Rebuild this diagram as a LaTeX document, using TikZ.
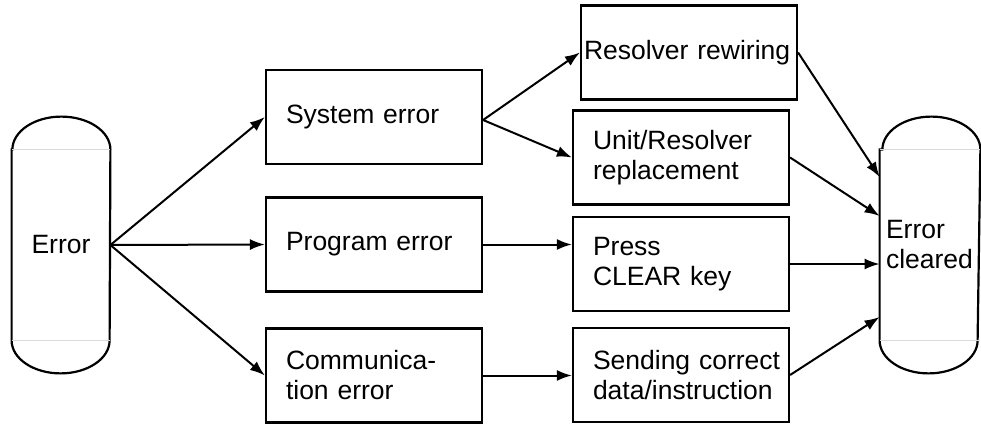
\documentclass[tikz,border=0pt]{standalone}
\usepackage{fontspec}
\setmainfont{Liberation Sans}
\usetikzlibrary{arrows.meta}
\begin{document}
\begin{tikzpicture}[x=0.5pt, y=0.5pt, >={Latex[length=7.5pt,width=5.5pt]},
  every node/.style={font=\fontsize{13.25}{15}\selectfont},
  box/.style={draw, line width=1.1pt, minimum width=108pt, minimum height=47pt,
    inner xsep=10pt, text width=88pt, align=left},
  drum/.style={minimum width=49pt, minimum height=95pt, inner sep=0pt},
  link/.style={->, line width=1pt}]
\useasboundingbox (0,0) rectangle (981,424);
% Start and end
\node[drum, align=center] (err) at (61,179) {Error};
\node[drum, inner xsep=3pt, text width=44pt, align=left] (clr) at (930,179) {Error\\cleared};
\foreach \d in {err, clr} {
  \draw[line width=1.1pt] (\d.north west) -- (\d.south west)
    arc[start angle=180, end angle=360, x radius=24.5pt, y radius=16.5pt]
    -- (\d.north east)
    arc[start angle=0, end angle=180, x radius=24.5pt, y radius=16.5pt] -- cycle;
  \draw[gray!30, line width=0.6pt] (\d.north west) -- (\d.north east);
  \draw[gray!30, line width=0.6pt] (\d.south west) -- (\d.south east);
}
% Error kinds
\node[box] (syserr) at (374,307) {System error};
\node[box] (prgerr) at (374,179.5) {Program error};
\node[box] (comerr) at (374,48.5) {Communica-\\tion error};
% Remedies
\node[box, inner xsep=1.5pt, text width=105pt] (rewire) at (689,371.5) {Resolver rewiring};
\node[box] (unitrep) at (681,266.5) {Unit/Resolver\\replacement};
\node[box] (press) at (681,160) {Press\\CLEAR key};
\node[box] (send) at (681,49) {\mbox{Sending correct}\\data/instruction};
% Arrows
\draw[link] (err.east) -- (syserr.west);
\draw[link] (err.east) -- (prgerr.west);
\draw[link] (err.east) -- (comerr.west);
\draw[link] ([yshift=-1.5pt]syserr.east) -- (rewire.west);
\draw[link] ([yshift=-1.5pt]syserr.east) -- (unitrep.west);
\draw[link] (prgerr.east) -- (prgerr.east -| press.west);
\draw[link] (comerr.east) -- (comerr.east -| send.west);
\draw[link] (rewire.east) -- ([yshift=34pt]clr.west);
\draw[link] (unitrep.east) -- ([yshift=14.5pt]clr.west);
\draw[link] (press.east) -- (press.east -| clr.west);
\draw[link] (send.east) -- ([yshift=-36pt]clr.west);
\end{tikzpicture}
\end{document}
